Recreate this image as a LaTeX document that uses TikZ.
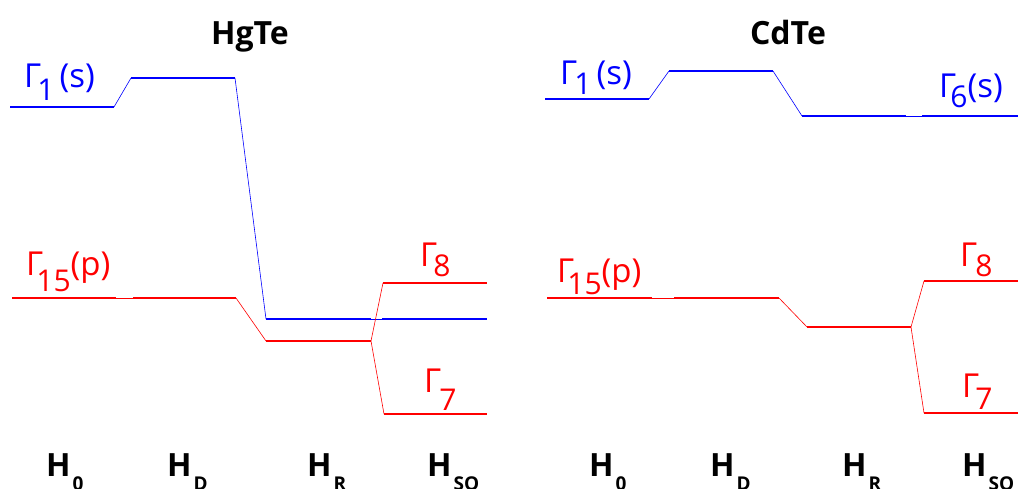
\documentclass[tikz,border=0pt]{standalone}
\usepackage{fontspec}
\setmainfont{Open Sans}
% \gsub{kern}{drop}{digits}
\newcommand{\gsub}[3]{\hspace{#1}\raisebox{-#2}{\fontsize{30}{30}\selectfont #3}}
\newcommand{\hsub}[1]{\hspace{2pt}\raisebox{-14pt}{\fontsize{19}{19}\selectfont #1}}
\definecolor{lvblue}{RGB}{0,0,255}
\definecolor{lvred}{RGB}{255,0,0}
\begin{document}
\begin{tikzpicture}[x=1pt,y=-1pt,
  level/.style={line width=2pt},
  link/.style={line width=0.6pt},
  glabel/.style={anchor=base west,inner sep=0pt,font=\fontsize{33}{33}\selectfont},
  title/.style={anchor=base,inner sep=0pt,font=\fontsize{32}{32}\selectfont\bfseries},
  hlabel/.style={anchor=base west,inner sep=0pt,font=\fontsize{32}{32}\selectfont\bfseries}]
\useasboundingbox (0,0) rectangle (1018,489);
% ---------- HgTe ----------
\coordinate (a1) at (10,107); \coordinate (a2) at (114,107);
\coordinate (a3) at (131,78); \coordinate (a4) at (235,78);
\coordinate (a5) at (266,319); \coordinate (a6) at (371,319);
\coordinate (a7) at (382,319); \coordinate (a8) at (487,319);
\begin{scope}[lvblue]
\draw[level] (a1) -- (a2); \draw[level] (a3) -- (a4);
\draw[level] (a5) -- (a6); \draw[level] (a7) -- (a8);
\draw[link] (a2) -- (a3); \draw[link] (a4) -- (a5); \draw[link] (a6) -- (a7);
\end{scope}
\coordinate (b1) at (12,298); \coordinate (b2) at (116,298);
\coordinate (b3) at (133,298); \coordinate (b4) at (236,298);
\coordinate (b5) at (266,341); \coordinate (b6) at (371,341);
\coordinate (b7) at (383,283); \coordinate (b8) at (487,283);
\coordinate (b9) at (384,414); \coordinate (b10) at (487,414);
\begin{scope}[lvred]
\draw[level] (b1) -- (b2); \draw[level] (b3) -- (b4);
\draw[level] (b5) -- (b6); \draw[level] (b7) -- (b8); \draw[level] (b9) -- (b10);
\draw[link] (b2) -- (b3); \draw[link] (b4) -- (b5);
\draw[link] (b6) -- (b7); \draw[link] (b6) -- (b9);
\end{scope}
\node[title] (t1) at (250,45) {HgTe};
\node[glabel,lvblue] (l1) at (24,88) {Γ\gsub{-4pt}{13pt}{1}\hspace{5pt}(s)};
\node[glabel,lvred] (l2) at (26,276) {Γ\gsub{-7pt}{16pt}{15}(p)};
\node[glabel,lvred] (l3) at (420,267) {Γ\gsub{-4pt}{10pt}{8}};
\node[glabel,lvred] (l4) at (424,392) {Γ\gsub{-2pt}{18pt}{7}};
\node[hlabel] (h1) at (46,476) {H\hsub{0}};
\node[hlabel] (h2) at (167,476) {H\hsub{D}};
\node[hlabel] (h3) at (307,476) {H\hsub{R}};
\node[hlabel] (h4) at (427,476) {H\hsub{SO}};
% ---------- CdTe ----------
\coordinate (c1) at (545,99); \coordinate (c2) at (649,99);
\coordinate (c3) at (669,71); \coordinate (c4) at (773,71);
\coordinate (c5) at (802,116); \coordinate (c6) at (906,116);
\coordinate (c7) at (922,116); \coordinate (c8) at (1018,116);
\begin{scope}[lvblue]
\draw[level] (c1) -- (c2); \draw[level] (c3) -- (c4);
\draw[level] (c5) -- (c6); \draw[level] (c7) -- (c8);
\draw[link] (c2) -- (c3); \draw[link] (c4) -- (c5); \draw[link] (c6) -- (c7);
\end{scope}
\coordinate (d1) at (547,298); \coordinate (d2) at (652,298);
\coordinate (d3) at (674,298); \coordinate (d4) at (779,298);
\coordinate (d5) at (807,327); \coordinate (d6) at (911,327);
\coordinate (d7) at (924,281); \coordinate (d8) at (1018,281);
\coordinate (d9) at (924,413); \coordinate (d10) at (1018,413);
\begin{scope}[lvred]
\draw[level] (d1) -- (d2); \draw[level] (d3) -- (d4);
\draw[level] (d5) -- (d6); \draw[level] (d7) -- (d8); \draw[level] (d9) -- (d10);
\draw[link] (d2) -- (d3); \draw[link] (d4) -- (d5);
\draw[link] (d6) -- (d7); \draw[link] (d6) -- (d9);
\end{scope}
\node[title] (t2) at (788,45) {CdTe};
\node[glabel,lvblue] (r1) at (560,85) {Γ\gsub{-3pt}{10pt}{1}\hspace{5pt}(s)};
\node[glabel,lvblue] (r2) at (939,98) {Γ\gsub{-6pt}{10pt}{6}(s)};
\node[glabel,lvred] (r3) at (557,283) {Γ\gsub{-7pt}{12pt}{15}(p)};
\node[glabel,lvred] (r4) at (960,267) {Γ\gsub{-2pt}{10pt}{8}};
\node[glabel,lvred] (r5) at (962,397) {Γ\gsub{-4pt}{12pt}{7}};
\node[hlabel] (k1) at (589,476) {H\hsub{0}};
\node[hlabel] (k2) at (710,476) {H\hsub{D}};
\node[hlabel] (k3) at (842,476) {H\hsub{R}};
\node[hlabel] (k4) at (962,476) {H\hsub{SO}};
\end{tikzpicture}
\end{document}
